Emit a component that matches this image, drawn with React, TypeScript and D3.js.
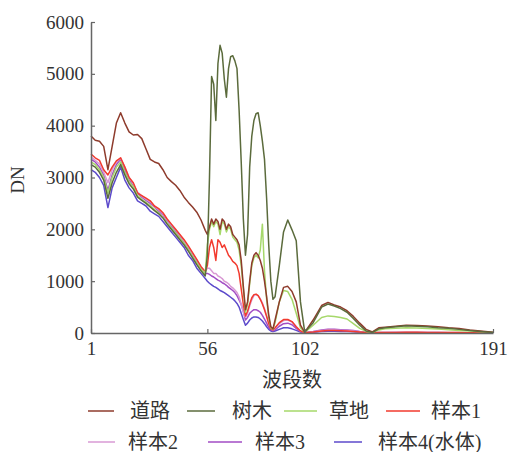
import { useEffect, useRef } from "react";
import * as d3 from "d3";

// 波段号（横轴采样位置）
const bands = [
  1, 3, 5, 7, 9, 11, 13, 15, 17, 19, 21, 23, 25, 27, 29, 31, 33, 35, 37, 39, 41, 43, 45, 47, 49, 51, 53, 55,
  56, 57, 58, 59, 60, 61, 62, 63, 64, 65, 66, 67, 68, 69, 70, 71, 72, 73, 74, 75, 76, 77, 78, 79, 80, 81, 82, 83, 84, 85, 86, 87, 88,
  90, 92, 94, 96, 98, 100, 102,
  106, 110, 113, 116, 119, 122, 125, 128, 131, 134, 137, 140, 145, 150, 155, 160, 165, 170, 175, 180, 185, 191,
];

const road = [
  3800, 3720, 3700, 3600, 3150, 3600, 4050, 4250, 4050, 3880, 3820, 3830, 3750, 3550, 3350, 3300, 3270, 3150, 3000, 2920, 2850, 2750, 2620, 2520, 2430, 2330, 2180, 1980,
  1900, 2050, 2200, 2100, 2200, 2150, 2000, 2200, 2150, 2000, 2100, 2050, 1900, 1850, 1800, 1700, 1400, 900, 450, 600, 1000, 1350, 1500, 1550, 1500, 1400, 1250, 1000, 700, 350, 120, 80, 250,
  600, 880, 900, 800, 600, 150, 10,
  250, 530, 590, 540, 500, 430, 320, 190, 70, 20, 100, 110, 130, 150, 145, 135, 120, 100, 85, 60, 40, 15,
];

const tree = [
  3250, 3200, 3100, 2950, 2600, 2900, 3100, 3250, 3050, 2880, 2780, 2620, 2560, 2500, 2430, 2360, 2300, 2220, 2100, 2000, 1900, 1800, 1700, 1580, 1450, 1320, 1200, 1100,
  1500, 3000, 4950, 4800, 4100, 5200, 5550, 5400, 4900, 4550, 5100, 5330, 5350, 5250, 5100, 4300, 3300, 2200, 1500, 1900, 3200, 3800, 4100, 4230, 4250, 4000, 3700, 3350, 2600, 1700, 1000, 650, 700,
  1300, 1950, 2180, 1990, 1780, 600, 20,
  200, 500, 560, 520, 470, 400, 280, 150, 40, 10, 80, 100, 120, 140, 130, 120, 100, 90, 70, 50, 30, 10,
];

const grass = [
  3300, 3250, 3150, 3000, 2700, 3000, 3200, 3300, 3100, 2920, 2820, 2650, 2580, 2520, 2460, 2380, 2320, 2230, 2120, 2030, 1930, 1830, 1730, 1610, 1480, 1350, 1230, 1150,
  1700, 2000, 2150, 2050, 2150, 2100, 1900, 2150, 2100, 1950, 2050, 2000, 1850, 1800, 1750, 1600, 1300, 850, 400, 550, 950, 1300, 1450, 1500, 1450, 1600, 2100, 1200, 650, 300, 100, 70, 200,
  600, 820, 800, 650, 380, 100, 10,
  150, 300, 330, 320, 300, 270, 180, 90, 30, 10, 60, 80, 90, 100, 95, 85, 75, 65, 50, 40, 25, 10,
];

const sample1 = [
  3450, 3380, 3330, 3150, 3050, 3200, 3320, 3380, 3200, 3000, 2900, 2700, 2650, 2600, 2550, 2450, 2400, 2320, 2200, 2100, 2000, 1900, 1800, 1680, 1550, 1420, 1280, 1180,
  1300, 1650, 1800, 1650, 1400, 1800, 1750, 1650, 1700, 1600, 1500, 1450, 1380, 1350, 1300, 1150, 850, 550, 330, 420, 560, 680, 740, 750, 720, 650, 560, 450, 320, 180, 80, 60, 100,
  200, 260, 260, 220, 120, 40, 5,
  20, 40, 50, 50, 45, 40, 30, 20, 10, 5, 10, 10, 10, 15, 15, 10, 10, 10, 8, 5, 5, 3,
];

const sample2 = [
  3400, 3330, 3260, 3100, 2900, 3150, 3300, 3370, 3200, 3000, 2880, 2720, 2640, 2580, 2530, 2440, 2380, 2300, 2180, 2090, 1990, 1880, 1780, 1660, 1530, 1400, 1280, 1180,
  1250, 1250, 1200, 1150, 1150, 1100, 1080, 1050, 1000, 980, 950, 900, 870, 830, 780, 700, 550, 400, 300, 380, 520, 640, 720, 740, 720, 660, 580, 470, 340, 200, 100, 60, 90,
  180, 240, 250, 210, 120, 40, 5,
  25, 50, 60, 60, 55, 50, 40, 25, 12, 5, 10, 12, 15, 15, 15, 12, 10, 10, 8, 5, 5, 3,
];

const sample3 = [
  3350, 3300, 3200, 3050, 2750, 3050, 3250, 3350, 3150, 2950, 2850, 2700, 2620, 2560, 2500, 2430, 2350, 2280, 2160, 2070, 1960, 1860, 1760, 1640, 1510, 1380, 1250, 1150,
  1150, 1130, 1100, 1080, 1050, 1020, 1000, 970, 950, 920, 880, 850, 820, 780, 720, 640, 550, 420, 250, 300, 380, 420, 450, 450, 430, 400, 340, 270, 190, 110, 60, 40, 60,
  130, 180, 190, 160, 90, 30, 5,
  30, 60, 70, 70, 65, 60, 50, 30, 15, 8, 8, 10, 10, 10, 10, 8, 8, 6, 5, 4, 3, 2,
];

const sample4 = [
  3150, 3100, 3000, 2850, 2420, 2800, 3000, 3200, 2950, 2800, 2700, 2550, 2500, 2450, 2350, 2300, 2250, 2150, 2050, 1950, 1850, 1750, 1650, 1500, 1400, 1250, 1150, 1050,
  1000, 960, 930, 900, 880, 850, 820, 800, 780, 750, 720, 690, 660, 620, 570, 500, 380, 260, 150, 190, 250, 290, 310, 310, 300, 270, 230, 180, 120, 70, 40, 30, 40,
  70, 100, 100, 80, 50, 20, 5,
  15, 30, 35, 35, 30, 30, 25, 15, 8, 4, 5, 5, 5, 5, 5, 5, 4, 4, 3, 3, 2, 2,
];

const seriesNames = ["道路", "树木", "草地", "样本1", "样本2", "样本3", "样本4(水体)"];
const seriesValues = [road, tree, grass, sample1, sample2, sample3, sample4];
const seriesColors = ["#8e3b2c", "#5b6b3c", "#a6d86a", "#f23a2e", "#d99ad4", "#a24cc4", "#5c4acb"];
const drawOrder = [6, 5, 4, 3, 2, 0, 1];

const xTicks = [1, 56, 102, 191];
const yTicks = [0, 1000, 2000, 3000, 4000, 5000, 6000];

const W = 510;
const H = 452;
const FONT = "'Liberation Serif', 'Noto Sans CJK SC', serif";

// 图例位置：[线起点, 线终点, 文字起点, 行y]
const legendPos = [
  [88, 114, 130, 411],
  [187, 215, 232, 411],
  [284, 317, 329, 411],
  [386, 420, 431, 411],
  [88, 115, 128, 442],
  [208, 242, 255, 442],
  [334, 362, 378, 442],
];

const App = () => {
  const svgRef = useRef<SVGSVGElement | null>(null);

  useEffect(() => {
    const svg = d3.select(svgRef.current);
    svg.selectAll("*").remove();

    const x = d3.scaleLinear().domain([1, 191]).range([91, 493]);
    const y = d3.scaleLinear().domain([0, 6000]).range([333, 22]);

    // 曲线
    const line = d3
      .line<number>()
      .x((_, i) => x(bands[i]))
      .y((d) => y(d));

    drawOrder.forEach((k) => {
      svg
        .append("path")
        .attr("d", line(seriesValues[k]) || "")
        .attr("fill", "none")
        .attr("stroke", seriesColors[k])
        .attr("stroke-width", 1.5)
        .attr("stroke-linejoin", "round");
    });

    // 坐标轴
    const yAxis = svg
      .append("g")
      .attr("transform", "translate(91,0)")
      .call(d3.axisLeft(y).tickValues(yTicks).tickFormat(d3.format("d")).tickSizeInner(-4).tickSizeOuter(0).tickPadding(7));

    const xAxis = svg
      .append("g")
      .attr("transform", "translate(0,333)")
      .call(d3.axisBottom(x).tickValues(xTicks).tickFormat(d3.format("d")).tickSizeInner(-4).tickSizeOuter(0).tickPadding(9));

    [yAxis, xAxis].forEach((g) => {
      g.attr("font-family", FONT).attr("font-size", 19);
      g.select(".domain").attr("stroke", "#666").attr("stroke-width", 1.5);
      g.selectAll(".tick line").attr("stroke", "#666").attr("stroke-width", 1.2);
      g.selectAll(".tick text").attr("fill", "#333");
    });

    // 轴标题
    svg
      .append("text")
      .attr("transform", "translate(24,180) rotate(-90)")
      .attr("text-anchor", "middle")
      .attr("font-family", FONT)
      .attr("font-size", 19)
      .attr("fill", "#333")
      .text("DN");

    svg
      .append("text")
      .attr("x", 292)
      .attr("y", 387)
      .attr("text-anchor", "middle")
      .attr("font-family", FONT)
      .attr("font-size", 20)
      .attr("fill", "#333")
      .text("波段数");

    // 图例
    seriesNames.forEach((name, i) => {
      const [lx1, lx2, tx, ly] = legendPos[i];
      svg
        .append("line")
        .attr("x1", lx1)
        .attr("x2", lx2)
        .attr("y1", ly)
        .attr("y2", ly)
        .attr("stroke", seriesColors[i])
        .attr("stroke-width", 1.5);
      svg
        .append("text")
        .attr("x", tx)
        .attr("y", ly)
        .attr("dy", "0.35em")
        .attr("font-family", FONT)
        .attr("font-size", 20)
        .attr("fill", "#333")
        .text(name);
    });
  }, []);

  return (
    <div style={{ position: "absolute", left: 0, top: 0 }}>
      <svg ref={svgRef} width={W} height={H} style={{ display: "block", background: "#fff" }}></svg>
    </div>
  );
};

export default App;
